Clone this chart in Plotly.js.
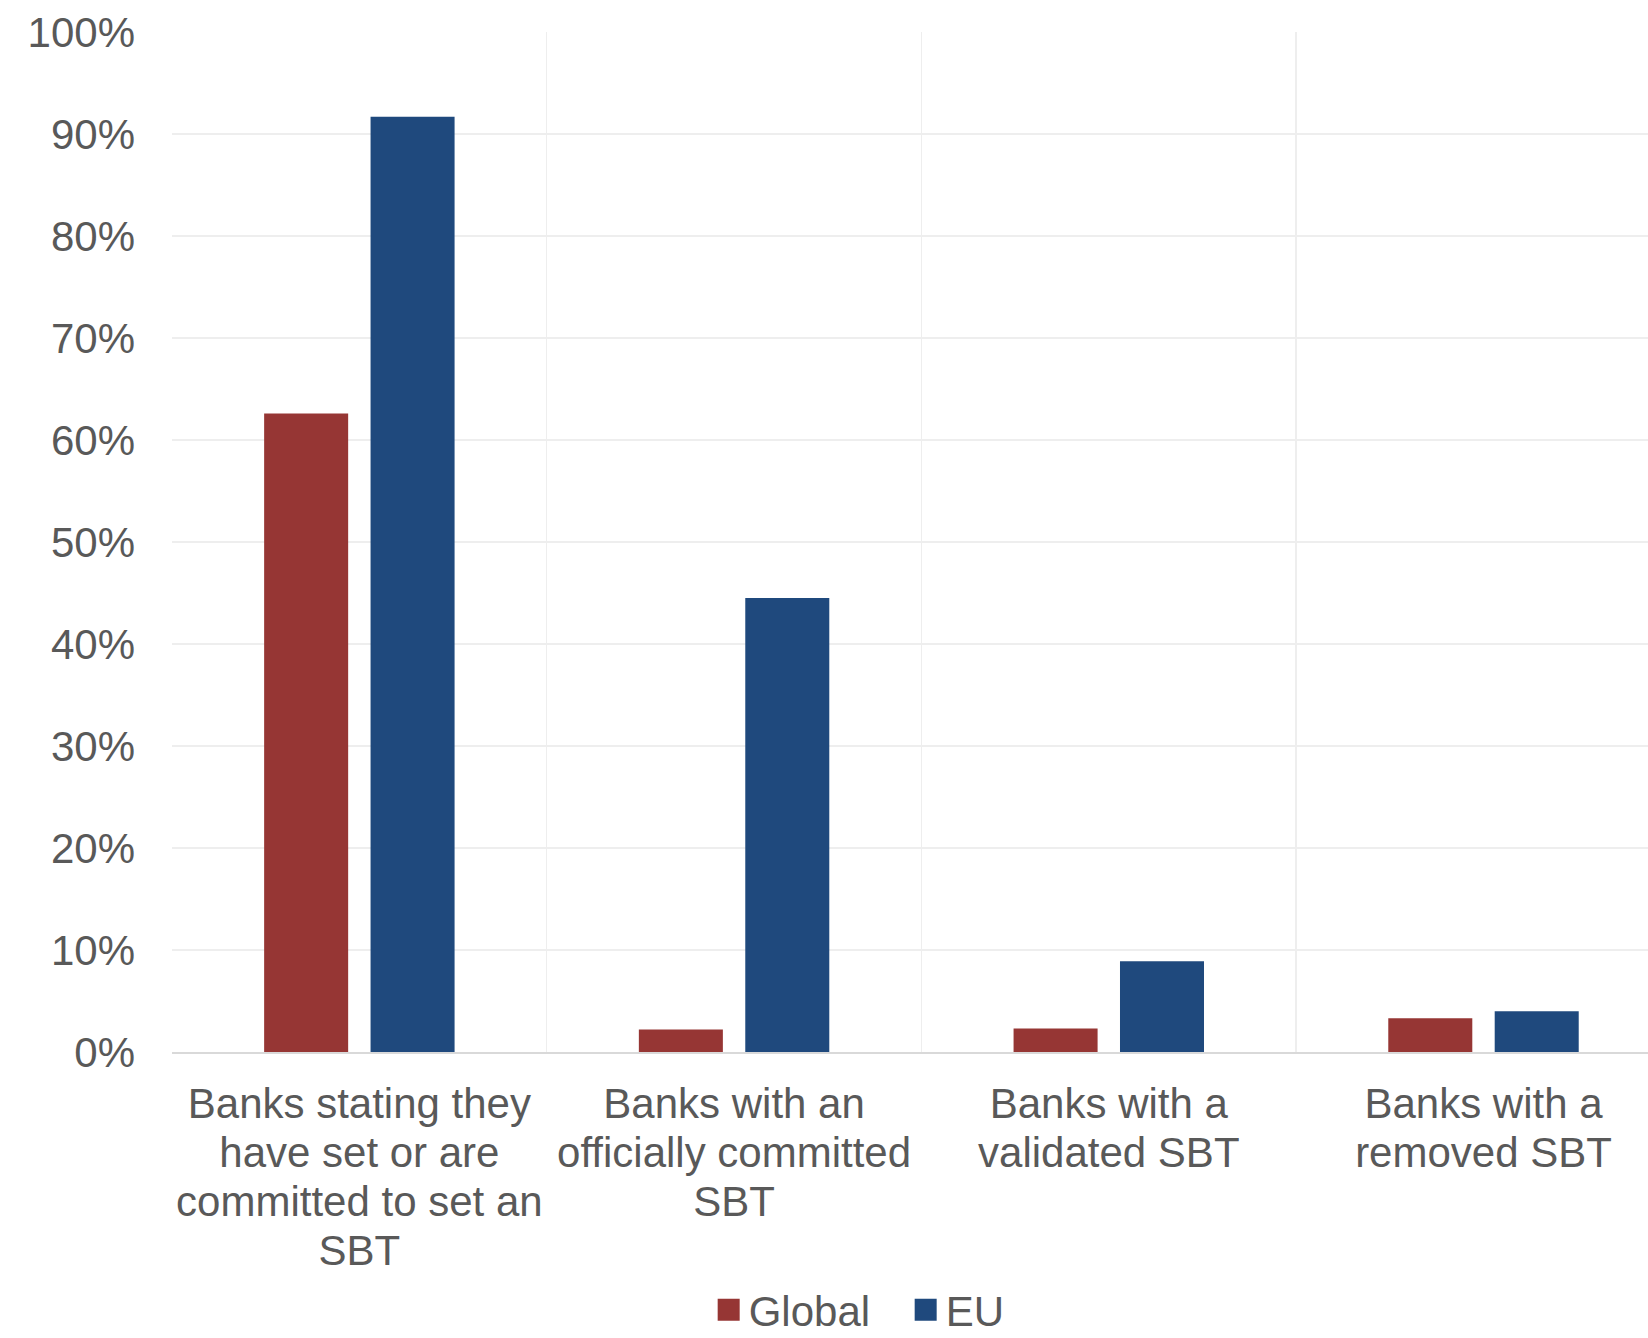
<!DOCTYPE html>
<html>
<head>
<meta charset="utf-8">
<script src="https://cdn.plot.ly/plotly-3.0.1.min.js"></script>
<style>
  html, body { margin: 0; padding: 0; background: #ffffff; }
  #chart { width: 1648px; height: 1338px; }
</style>
</head>
<body>
<div id="chart"></div>
<script>
const categories = [
  "Banks stating they<br>have set or are<br>committed to set an<br>SBT",
  "Banks with an<br>officially committed<br>SBT",
  "Banks with a<br>validated SBT",
  "Banks with a<br>removed SBT"
];
const seriesNames = ["Global", "EU"];
const globalValues = [0.626, 0.022, 0.023, 0.033];
const euValues = [0.917, 0.445, 0.089, 0.040];
const seriesColors = ["#963634", "#1F497D"];
const yTickVals = [0, 0.1, 0.2, 0.3, 0.4, 0.5, 0.6, 0.7, 0.8, 0.9, 1.0];
const yTickText = ["0%", "10%", "20%", "30%", "40%", "50%", "60%", "70%", "80%", "90%", "100%"];

const FONT = "Liberation Sans, Arial, sans-serif";
const GREY = "#595959";

const traces = [
  { type: "bar", name: seriesNames[0], x: categories, y: globalValues,
    marker: { color: seriesColors[0] }, hoverinfo: "skip" },
  { type: "bar", name: seriesNames[1], x: categories, y: euValues,
    marker: { color: seriesColors[1] }, hoverinfo: "skip" }
];

const layout = {
  width: 1648, height: 1338,
  margin: { l: 172, r: 0, t: 32, b: 286, pad: 0, autoexpand: false },
  paper_bgcolor: "#ffffff", plot_bgcolor: "#ffffff",
  font: { family: FONT, size: 42, color: GREY },
  barmode: "group",
  bargap: 0.432,
  bargroupgap: 0.2105,
  showlegend: true,
  legend: {
    orientation: "h",
    x: 0.3636, xanchor: "left",
    y: -0.253, yanchor: "middle",
    font: { family: FONT, size: 42, color: GREY },
    entrywidth: 152, entrywidthmode: "pixels",
    bgcolor: "rgba(0,0,0,0)",
    traceorder: "normal"
  },
  xaxis: {
    type: "category",
    range: [-0.5, 3.439],
    tickson: "boundaries",
    showgrid: true, gridcolor: "#eeeeee", gridwidth: 1.5,
    showline: true, linecolor: "#d9d9d9", linewidth: 2,
    ticks: "",
    ticklabelstandoff: 14,
    tickfont: { family: FONT, size: 42, color: GREY },
    fixedrange: true
  },
  yaxis: {
    range: [0, 1.0],
    autorange: false,
    tickvals: yTickVals, ticktext: yTickText,
    showgrid: true, gridcolor: "#eeeeee", gridwidth: 1.5,
    zeroline: false, showline: false,
    ticks: "",
    ticklabelstandoff: 36,
    tickfont: { family: FONT, size: 42, color: GREY },
    fixedrange: true
  }
};

Plotly.newPlot("chart", traces, layout, { displayModeBar: false, staticPlot: true }).then(function () {
  document.querySelectorAll("#chart .legend .legendpoints path").forEach(function (p) {
    p.setAttribute("d", "M11,11H-11V-11H11Z");
  });
  // tighter line spacing for the multi-line category labels, as in the reference
  document.querySelectorAll("#chart .xtick text tspan.line").forEach(function (t) {
    const dy = t.getAttribute("dy");
    if (dy && dy.indexOf("em") > 0) {
      const v = parseFloat(dy);
      if (v > 0) t.setAttribute("dy", (v * 1.16 / 1.3).toFixed(3) + "em");
    }
  });
});
</script>
</body>
</html>
